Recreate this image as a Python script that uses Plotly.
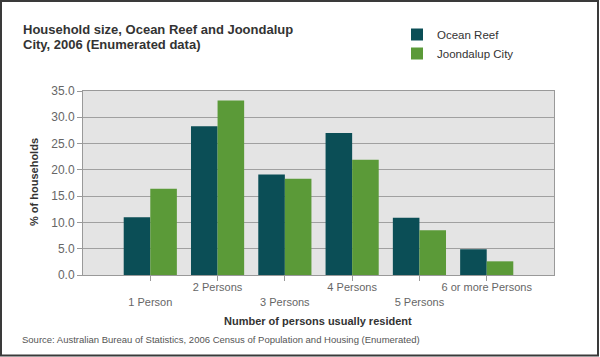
import plotly.graph_objects as go

categories = ["1 Person", "2 Persons", "3 Persons", "4 Persons", "5 Persons", "6 or more Persons"]
ocean_reef = [11.0, 28.3, 19.1, 27.0, 10.9, 4.9]
joondalup = [16.4, 33.2, 18.3, 21.9, 8.5, 2.6]
series_names = ["Ocean Reef", "Joondalup City"]
y_ticks = [0, 5, 10, 15, 20, 25, 30, 35]

# staggered tick labels (odd positions drop to a second row)
tick_text = [("<br>" + c) if i % 2 == 0 else c for i, c in enumerate(categories)]

W, H = 600, 357
L, R, T, B = 83, 46, 91, 82
pw, ph = W - L - R, H - T - B

def px(x):
    return (x - L) / pw

def py(y):
    return (H - B - y) / ph

FONT = "Liberation Sans, Arial, sans-serif"

fig = go.Figure()
fig.add_trace(go.Bar(x=categories, y=ocean_reef, name=series_names[0],
                     marker=dict(color="#0b4e56", line=dict(width=0))))
fig.add_trace(go.Bar(x=categories, y=joondalup, name=series_names[1],
                     marker=dict(color="#5b9a38", line=dict(width=0))))

fig.update_layout(
    width=W, height=H,
    margin=dict(l=L, r=R, t=T, b=B, pad=0, autoexpand=False),
    paper_bgcolor="white",
    plot_bgcolor="#e4e4e4",
    barmode="group",
    bargap=0.21,
    bargroupgap=0,
    font=dict(family=FONT, color="#666666", size=11),
    showlegend=True,
    legend=dict(
        x=px(397), y=py(20), xanchor="left", yanchor="top",
        font=dict(family=FONT, size=11.5, color="#333333"),
        bgcolor="rgba(0,0,0,0)",
        itemwidth=30,
        tracegroupgap=0,
    ),
    xaxis=dict(
        type="category",
        range=[-1, 6],
        tickmode="array",
        tickvals=categories,
        ticktext=tick_text,
        tickangle=0,
        automargin=False,
        ticks="outside", ticklen=5, tickcolor="#999999",
        ticklabelstandoff=-3,
        showline=True, linecolor="#999999", linewidth=1, mirror=True,
        showgrid=False,
        tickfont=dict(family=FONT, size=11, color="#666666"),
    ),
    yaxis=dict(
        range=[0, 35],
        tickvals=y_ticks,
        tickformat=".1f",
        automargin=False,
        ticks="outside", ticklen=5, tickcolor="#999999",
        showline=True, linecolor="#999999", linewidth=1, mirror=True,
        showgrid=True, gridcolor="#a0a0a0", gridwidth=1,
        zeroline=False,
        tickfont=dict(family=FONT, size=12, color="#666666"),
    ),
)

# chart title (two lines)
fig.add_annotation(
    text="<b>Household size, Ocean Reef and Joondalup</b>",
    xref="paper", yref="paper", x=px(21), y=py(29),
    xanchor="left", yanchor="middle", showarrow=False,
    font=dict(family=FONT, size=13, color="#333333"),
)
fig.add_annotation(
    text="<b>City, 2006 (Enumerated data)</b>",
    xref="paper", yref="paper", x=px(21), y=py(44),
    xanchor="left", yanchor="middle", showarrow=False,
    font=dict(family=FONT, size=13, color="#333333"),
)
fig.add_annotation(
    text="<b>Number of persons usually resident</b>",
    xref="paper", yref="paper", x=px(318), y=py(321),
    xanchor="center", yanchor="middle", showarrow=False,
    font=dict(family=FONT, size=11, color="#333333"),
)
fig.add_annotation(
    text="<b>% of households</b>",
    xref="paper", yref="paper", x=px(34), y=py(182),
    xanchor="center", yanchor="middle", showarrow=False, textangle=-90,
    font=dict(family=FONT, size=11, color="#333333"),
)
fig.add_annotation(
    text="Source: Australian Bureau of Statistics, 2006 Census of Population and Housing (Enumerated)",
    xref="paper", yref="paper", x=px(20), y=py(339),
    xanchor="left", yanchor="middle", showarrow=False,
    font=dict(family=FONT, size=9.5, color="#555555"),
)

# outer frame of the picture
fig.add_shape(type="rect", xref="paper", yref="paper",
              x0=px(1), x1=px(598), y0=py(355.5), y1=py(1),
              line=dict(color="#3a3a3a", width=2), layer="above")

fig.write_html("out.html", config={"displayModeBar": False},
               post_script="document.body.style.margin='0';")
